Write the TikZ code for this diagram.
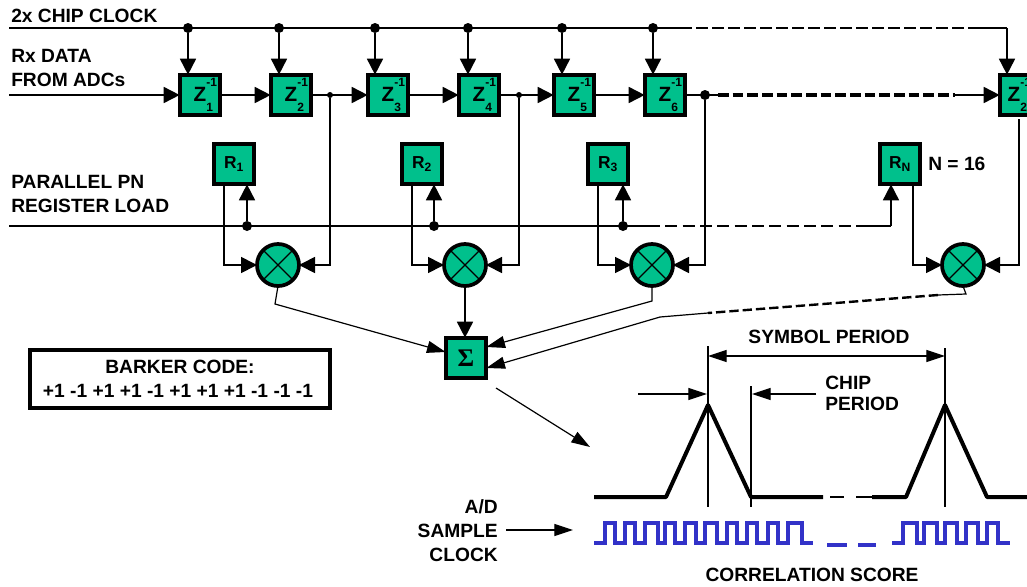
\documentclass[tikz,border=0pt]{standalone}
\usepackage{fontspec}
\setmainfont{Liberation Sans}
\newfontfamily\sigmafont{Liberation Serif}
\usetikzlibrary{arrows.meta}
\definecolor{chipgreen}{RGB}{0,192,140}
\definecolor{clockblue}{RGB}{50,50,200}
\newcommand{\zlabel}[1]{\fontsize{15.5}{15}\selectfont Z\rlap{\raisebox{1.4ex}{\fontsize{9}{9}\selectfont -1}}\rlap{\raisebox{-0.9ex}{\fontsize{9}{9}\selectfont #1}}\hspace{9pt}}
\tikzset{
  bigtip/.tip={Triangle[length=12pt,width=12pt]},
  smalltip/.tip={Triangle[length=14pt,width=9pt]},
  wire/.style={line width=1.3pt},
  feed/.style={wire,-bigtip},
  thinfeed/.style={line width=0.9pt,-smalltip},
  reg/.style={draw,line width=2.8pt,fill=chipgreen,minimum size=30.5pt,inner sep=0pt,outer sep=0pt,font=\bfseries\fontsize{13}{13}\selectfont},
  mult/.style={circle,draw,line width=2.8pt,fill=chipgreen,minimum size=31.5pt,inner sep=0pt,outer sep=0pt,
    path picture={\draw[line width=0.9pt] (path picture bounding box.north east) -- (path picture bounding box.south west)
      (path picture bounding box.north west) -- (path picture bounding box.south east);}},
  dot/.style={circle,fill=black,minimum size=7.5pt,inner sep=0pt},
  smalldot/.style={circle,fill=black,minimum size=4.5pt,inner sep=0pt},
  lbl/.style={font=\bfseries\fontsize{14.4}{18}\selectfont,inner sep=0pt,align=left,anchor=west},
  sublbl/.style={lbl,anchor=center,align=center}
}
\begin{document}
\begin{tikzpicture}[x=0.75pt,y=-0.75pt]
\useasboundingbox (0,0) rectangle (1027,586);

% Delay registers
\node[reg] (z1) at (200,95) {\zlabel{1}};
\node[reg] (z2) at (291,95) {\zlabel{2}};
\node[reg] (z3) at (388,95) {\zlabel{3}};
\node[reg] (z4) at (479,95) {\zlabel{4}};
\node[reg] (z5) at (574,95) {\zlabel{5}};
\node[reg] (z6) at (665,95) {\zlabel{6}};
\node[reg] (zn) at (1020,95) {\zlabel{2N}\hspace{6pt}};

% PN registers
\node[reg] (r1) at (234,164) {R\textsubscript{1}};
\node[reg] (r2) at (422,164) {R\textsubscript{2}};
\node[reg] (r3) at (608,164) {R\textsubscript{3}};
\node[reg] (rn) at (900,164) {R\textsubscript{N}};

% Multipliers and adder
\node[mult] (m1) at (278,265) {};
\node[mult] (m2) at (465,265) {};
\node[mult] (m3) at (652,265) {};
\node[mult] (mn) at (963,265) {};
\node[reg] (sum) at (466,358) {\fontsize{19}{19}\selectfont\sigmafont Σ};

% Chip clock bus
\coordinate (clkin) at (9,28);
\node[dot] (c1) at (188,28) {};
\node[dot] (c2) at (279,28) {};
\node[dot] (c3) at (375,28) {};
\node[dot] (c4) at (468,28) {};
\node[dot] (c5) at (562,28) {};
\node[dot] (c6) at (653,28) {};
\coordinate (clkgap) at (680,28);
\coordinate (clkend) at (972,28);
\coordinate (clkcorner) at (1007,28);
\draw[wire] (clkin) -- (clkgap);
\draw[wire,dash pattern=on 9pt off 3pt] (clkgap) -- (clkend);
\draw[wire] (clkend) -- (clkcorner);
\draw[feed] (clkcorner) -- (clkcorner |- zn.north);
\draw[feed] (c1) -- (c1 |- z1.north);
\draw[feed] (c2) -- (c2 |- z2.north);
\draw[feed] (c3) -- (c3 |- z3.north);
\draw[feed] (c4) -- (c4 |- z4.north);
\draw[feed] (c5) -- (c5 |- z5.north);
\draw[feed] (c6) -- (c6 |- z6.north);

% Data path
\coordinate (datain) at (9,95);
\node[smalldot] (d2) at (330,95) {};
\node[smalldot] (d4) at (519,95) {};
\node[dot] (d6) at (705,95) {};
\coordinate (datagap) at (718,95);
\coordinate (dataend) at (955,95);
\draw[feed] (datain) -- (z1);
\draw[feed] (z1) -- (z2);
\draw[feed] (z2) -- (z3);
\draw[feed] (z3) -- (z4);
\draw[feed] (z4) -- (z5);
\draw[feed] (z5) -- (z6);
\draw[wire] (z6) -- (datagap);
\draw[line width=2.6pt,dash pattern=on 8pt off 3pt] (datagap) -- (dataend);
\draw[feed] (dataend) -- (zn);

% Register load bus
\coordinate (loadin) at (9,226);
\node[dot] (l1) at (247,226) {};
\node[dot] (l2) at (434,226) {};
\node[dot] (l3) at (623,226) {};
\coordinate (loadgap) at (648,226);
\coordinate (loadend) at (868,226);
\coordinate (loadcorner) at (891,226);
\draw[wire] (loadin) -- (loadgap);
\draw[wire,dash pattern=on 9pt off 4pt] (loadgap) -- (loadend);
\draw[wire] (loadend) -- (loadcorner);
\draw[feed] (loadcorner) -- (loadcorner |- rn.south);
\draw[feed] (l1) -- (l1 |- r1.south);
\draw[feed] (l2) -- (l2 |- r2.south);
\draw[feed] (l3) -- (l3 |- r3.south);

% Multiplier inputs
\draw[feed] ([xshift=-7.5pt]r1.south) |- (m1);
\draw[feed] ([xshift=-7.5pt]r2.south) |- (m2);
\draw[feed] ([xshift=-7.5pt]r3.south) |- (m3);
\draw[feed] ([xshift=9.5pt]rn.south) |- (mn);
\draw[feed] (d2) |- (m1);
\draw[feed] (d4) |- (m2);
\draw[feed] (d6) |- (m3);
\coordinate (znout) at (1019,119);
\draw[feed] (znout) |- (mn);

% Multiplier outputs
\coordinate (b1) at (275,304);
\coordinate (b3) at (652,301);
\coordinate (bn) at (938,295);
\coordinate (bm) at (708,313);
\coordinate (bk) at (660,317);
\draw[thinfeed] (m1.south) -- (b1) -- (sum.west |- 0,352);
\draw[feed] (m2) -- (m2 |- sum.north);
\draw[thinfeed] (m3.south) -- (b3) -- (sum.east |- 0,347);
\draw[line width=0.9pt] (mn.south) -- (966,294) -- (bn);
\draw[line width=1.8pt,dash pattern=on 7pt off 3pt] (bn) -- (bm);
\draw[line width=0.9pt] (bm) -- (bk);
\draw[thinfeed] (bk) -- (sum.east |- 0,368);

% Adder to correlation plot
\coordinate (sumout) at (496,388);
\coordinate (corrin) at (590,447);
\draw[thinfeed] (sumout) -- (corrin);

% Code box
\node[draw,line width=2.8pt,minimum width=225pt,minimum height=43pt,inner sep=0pt] (barker) at (180,379) {};
\node[sublbl] (barkertitle) at (180,367) {BARKER CODE:};
\node[sublbl] (barkerbits) at (178,391) {+1 -1 +1 +1 -1 +1 +1 +1 -1 -1 -1};

% Correlation peaks
\coordinate (pk1) at (708,405);
\coordinate (pk2) at (945,405);
\coordinate (base1) at (751,497);
\draw[line width=3pt,line join=round] (594,497) -- (666,497) -- (pk1) -- (base1) -- (823,497);
\draw[line width=1.3pt] (830,497) -- (844,497) (856,497) -- (872,497);
\draw[line width=3pt,line join=round] (872,497) -- (906,497) -- (pk2) -- (987,497) -- (1027,497);

% Period markers
\coordinate (symtop1) at (708,346);
\coordinate (symtop2) at (945,348);
\coordinate (chiptop) at (751,386);
\draw[line width=0.9pt] (symtop1) -- (708,507);
\draw[line width=0.9pt] (symtop2) -- (945,507);
\draw[line width=0.9pt] (chiptop) -- (751,507);
\draw[line width=0.9pt,smalltip-smalltip] (708,356) -- (945,356);
\draw[thinfeed] (638,394) -- (707,394);
\draw[thinfeed] (816,394) -- (752,394);
\draw[thinfeed] (506,530) -- (573,530);

% Sample clock
\draw[clockblue,line width=2.5pt] (594,543) -| (605,523) -| (615,543) -| (625,523) -| (635,543) -| (645,523) -| (658,543)
  -| (665,523) -| (675,543) -| (685,523) -| (696,543) -| (705,523) -| (717,543) -| (727,523) -| (737,543) -| (747,523) -| (757,543)
  -| (768,523) -| (778,543) -| (788,523) -| (802,543) -- (813,543);
\draw[clockblue,line width=2.5pt] (827,545) -- (847,545) (858,545) -- (876,545);
\draw[clockblue,line width=2.5pt] (892,543) -| (903,523) -| (917,543) -| (924,523) -| (937,543) -| (945,523) -| (957,543)
  -| (966,523) -| (978,543) -| (987,523) -| (998,543) -- (1010,543);

% Labels
\node[lbl] (clklbl) at (11,16) {2x CHIP CLOCK};
\node[lbl] (datalbl) at (11,68) {Rx DATA\\FROM ADCs};
\node[lbl] (loadlbl) at (11,194) {PARALLEL PN\\REGISTER LOAD};
\node[lbl] (nlbl) at (928,164) {N = 16};
\node[sublbl] (symlbl) at (829,337) {SYMBOL PERIOD};
\node[lbl] (chiplbl) at (825,393) {CHIP\\[-2.2pt]PERIOD};
\node[lbl,anchor=east,align=right] (adlbl) at (498,531) {A/D\\SAMPLE\\CLOCK};
\node[sublbl] (corrlbl) at (812,575) {CORRELATION SCORE};
\end{tikzpicture}
\end{document}
